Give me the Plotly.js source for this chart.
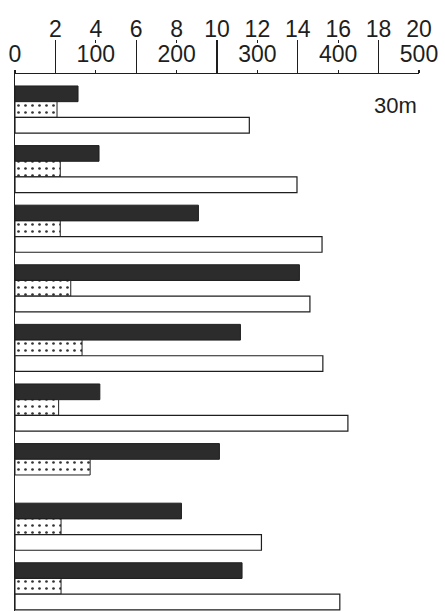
<!DOCTYPE html>
<html>
<head>
<meta charset="utf-8">
<script src="https://cdn.plot.ly/plotly-3.0.1.min.js"></script>
<style>html,body{margin:0;padding:0;background:#fff;}#chart{width:445px;height:611px;}</style>
</head>
<body>
<div id="chart"></div>
<script>
// Categories (groups, top to bottom)
const groups = ["1", "2", "3", "4", "5", "6", "7", "8", "9"];
// Series values read on the 0-500 scale
const darkValues   = [78, 104, 227, 352, 279, 105, 253, 206, 281];
const dottedValues = [52, 56, 56, 69, 83, 54, 93, 57, 57];
const whiteValues  = [290, 349, 380, 365, 381, 412, null, 305, 402];
// Tick labels
const lowerTicks = [0, 100, 200, 300, 400, 500];
const upperTicks = [0, 2, 4, 6, 8, 10, 12, 14, 16, 18, 20];
const upperLongTicks = [2, 6, 10, 14, 18];
const depthLabel = "30m";

const ink = "#1e1e1e";
const fontFam = "Liberation Sans, Arial, Helvetica, sans-serif";

const traces = [
  {type: "bar", orientation: "h", y: groups, x: darkValues, name: "dark",
   marker: {color: "#2c2c2c", line: {color: ink, width: 1}}, hoverinfo: "x"},
  {type: "bar", orientation: "h", y: groups, x: dottedValues, name: "dotted",
   marker: {color: "#ffffff", line: {color: ink, width: 1},
            pattern: {shape: ".", fgcolor: "#333", bgcolor: "#fff", size: 7, solidity: 0.12}}, hoverinfo: "x"},
  {type: "bar", orientation: "h", y: groups, x: whiteValues, name: "white",
   marker: {color: "#ffffff", line: {color: ink, width: 1.2}}, hoverinfo: "x"},
  {type: "scatter", x: [], y: [], xaxis: "x2", yaxis: "y2", showlegend: false},
  {type: "scatter", x: [], y: [], xaxis: "x3", yaxis: "y2", showlegend: false}
];

const W = 445, H = 611;
const xDom = [15 / W, 419 / W];
const axisTop = (H - 74) / H;
const stripTop = (H - 40) / H;

const layout = {
  width: W, height: H,
  margin: {l: 0, r: 0, t: 0, b: 0},
  paper_bgcolor: "#fff", plot_bgcolor: "rgba(0,0,0,0)",
  showlegend: false,
  barmode: "group", bargap: 0.21, bargroupgap: 0,
  font: {family: fontFam, color: ink},
  xaxis: {
    domain: xDom, anchor: "y", side: "top", range: [0, 500],
    tickmode: "array", tickvals: lowerTicks, ticktext: lowerTicks.map(String),
    ticks: "outside", ticklen: 3, tickwidth: 1.2, tickcolor: ink,
    ticklabelstandoff: -2,
    showline: true, linecolor: ink, linewidth: 1.5,
    showgrid: false, zeroline: false,
    tickfont: {size: 23, family: fontFam, color: ink}
  },
  yaxis: {
    domain: [0, axisTop], type: "category", range: [8.414, -0.596],
    showline: true, linecolor: ink, linewidth: 1.5,
    showticklabels: false, ticks: "", showgrid: false, zeroline: false
  },
  xaxis2: {
    domain: xDom, anchor: "y2", side: "top", range: [0, 20],
    tickmode: "array", tickvals: upperTicks,
    ticktext: upperTicks.map(v => v === 0 ? "" : String(v)),
    ticks: "inside", ticklen: 3, tickwidth: 1.2, tickcolor: ink,
    ticklabelstandoff: -3,
    showline: false, showgrid: false, zeroline: false,
    tickfont: {size: 23, family: fontFam, color: ink}
  },
  xaxis3: {
    domain: xDom, anchor: "y2", overlaying: "x2", range: [0, 20],
    tickmode: "array", tickvals: upperLongTicks,
    showticklabels: false, ticks: "",
    showgrid: true, gridcolor: ink, gridwidth: 1.3,
    showline: false, zeroline: false
  },
  yaxis2: {
    domain: [axisTop, stripTop], range: [0, 1],
    visible: false, showgrid: false, zeroline: false
  },
  annotations: [{
    text: depthLabel, xref: "paper", yref: "paper",
    x: 395 / W, y: (H - 105) / H, xanchor: "center", yanchor: "middle",
    showarrow: false, font: {size: 22, family: fontFam, color: ink}
  }]
};

Plotly.newPlot("chart", traces, layout, {staticPlot: true, displayModeBar: false});
</script>
</body>
</html>
